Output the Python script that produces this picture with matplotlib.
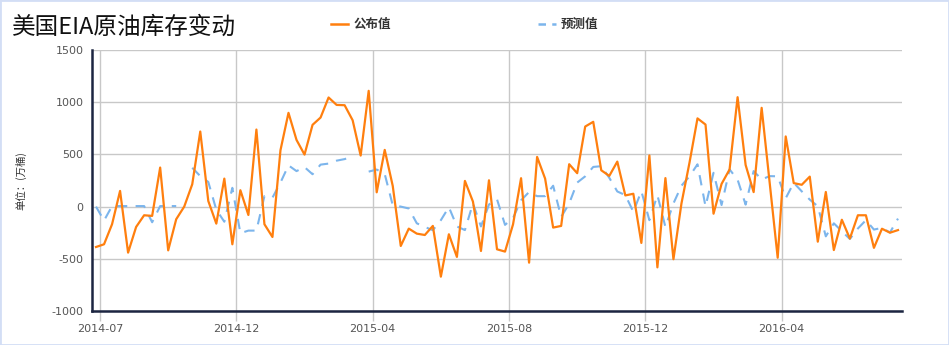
import matplotlib
matplotlib.use("Agg")
import matplotlib.pyplot as plt
from matplotlib.lines import Line2D
from matplotlib.patches import Rectangle
import numpy as np

plt.rcParams['font.family'] = ['Noto Sans CJK SC', 'DejaVu Sans']
plt.rcParams['axes.unicode_minus'] = False

# weekly values, 10k barrels
actual = [-387, -361, -169, 150, -441, -195, -83, -89, 374, -419,
          -121, 0, 214, 719, 54, -163, 268, -361, 157, -80,
          738, -169, -291, 540, 898, 639, 498, 783, 853, 1045,
          974, 971, 827, 489, 1109, 137, 543, 198, -377, -211,
          -259, -272, -185, -671, -265, -482, 246, 48, -425, 252,
          -409, -431, -170, 272, -537, 476, 268, -201, -185, 406,
          320, 767, 812, 348, 294, 431, 107, 123, -348, 490,
          -582, 273, -504, 30, 420, 845, 786, -68, 217, 356,
          1048, 399, 139, 946, 228, -490, 672, 225, 209, 287,
          -336, 140, -416, -126, -306, -83, -83, -395, -212, -250,
          -225]

forecast = [0, -134, 5, 5, 5, 5, 5, -150, 5, 5,
            5, None, 372, 292, 236, -30, -145, 180, -255, -230,
            -230, 100, 85, 230, 395, 340, 378, 310, 402, 412,
            440, 455, 480, None, 335, 355, 312, 13, 0, -18,
            -160, -195, -226, -130, -5, -190, -225, 30, -190, 20,
            70, -175, -110, 60, 140, 100, 100, 200, -100, 30,
            230, 290, 380, 387, 276, 145, 110, -50, 148, -130,
            110, -195, 30, 200, 290, 405, 2, 324, 15, 356,
            258, 19, 340, 260, 292, 290, 80, 228, 146, 67,
            3, -285, -160, -236, -310, -210, -130, -220, -204, -248,
            -115]

tick_labels = ['2014-07', '2014-12', '2015-04', '2015-08', '2015-12', '2016-04']
label_step = 17

W, H = 949, 345
fig = plt.figure(figsize=(W / 100, H / 100), dpi=100)
ax = fig.add_axes([92 / W, 1 - 311 / H, (902 - 92) / W, (311 - 50) / H])

x = np.arange(len(actual))
fc = np.array([np.nan if v is None else v for v in forecast], dtype=float)

ax.plot(x, fc, color='#7cb5ec', lw=1.5, ls=(0, (5, 4)), zorder=3)
ax.plot(x, actual, color='#ff7f0e', lw=1.6, zorder=4)

ax.set_xlim(-0.5, len(actual) - 0.5)
ax.set_ylim(-1000, 1500)
ax.set_yticks([-1000, -500, 0, 500, 1000, 1500])
ax.set_yticklabels(['-1000', '-500', '0', '500', '1000', '1500'])
ticks = [0.5 + label_step * i for i in range(len(tick_labels))]
ax.set_xticks(ticks)
ax.set_xticklabels(tick_labels)

ax.grid(True, color='#c8c8c8', lw=1)
ax.set_axisbelow(True)
ax.tick_params(axis='y', length=0, pad=6, labelsize=8, labelcolor='#555555')
ax.tick_params(axis='x', length=7, width=1, color='#c8c8c8', pad=2,
               labelsize=8, labelcolor='#555555')
for t in ax.get_xticklabels() + ax.get_yticklabels():
    t.set_family('DejaVu Sans')

for s in ['top', 'right']:
    ax.spines[s].set_visible(False)
for s in ['left', 'bottom']:
    ax.spines[s].set_color('#1c2541')
    ax.spines[s].set_linewidth(1.8)

ax.set_ylabel('单位：(万桶)', fontsize=7.5, color='#333333', labelpad=18)

fig.text(12 / W, 1 - 27 / H, '美国EIA原油库存变动', fontsize=17, color='#111111',
         va='center', ha='left')

# legend
ly = 1 - 24 / H
fig.add_artist(Line2D([331 / W, 348 / W], [ly, ly], transform=fig.transFigure,
                      color='#ff7f0e', lw=1.8))
fig.text(354 / W, ly, '公布值', fontsize=9, fontweight='bold', color='#333333',
         va='center', ha='left')
fig.add_artist(Line2D([538 / W, 556 / W], [ly, ly], transform=fig.transFigure,
                      color='#7cb5ec', lw=1.8, ls=(0, (3, 2.5))))
fig.text(561 / W, ly, '预测值', fontsize=9, fontweight='bold', color='#333333',
         va='center', ha='left')

fig.add_artist(Rectangle((0, 0), 1, 1, transform=fig.transFigure, fill=False,
                         edgecolor='#d3def5', lw=2))

fig.savefig('out.png', dpi=100)
